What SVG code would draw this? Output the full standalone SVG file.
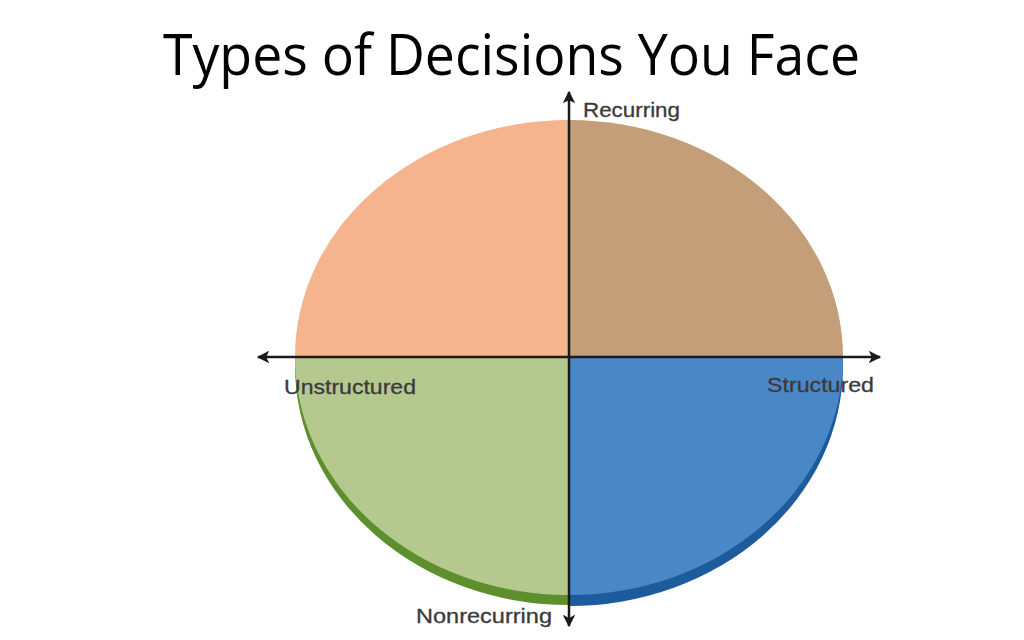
<svg xmlns="http://www.w3.org/2000/svg" width="1024" height="640" viewBox="0 0 1024 640">
  <style>
    .title { font-family: "Open Sans", "Liberation Sans", sans-serif; font-size: 56px; fill: #000; }
    .lbl { font-family: "Liberation Sans", Arial, sans-serif; font-size: 21px; fill: #3a3a3a; stroke: #3a3a3a; stroke-width: 0.3; }
    .axis { stroke: #1a1a1a; stroke-width: 2.5; fill: none; }
  </style>
  <defs>
    <marker id="arr" viewBox="0 0 10 10" refX="9" refY="5" markerWidth="5" markerHeight="5" orient="auto" markerUnits="strokeWidth">
      <path d="M0,0 L10,5 L0,10 L2.5,5 Z" fill="#1a1a1a"/>
    </marker>
    <clipPath id="cl"><rect x="0" y="357" width="569" height="300"/></clipPath>
    <clipPath id="cr"><rect x="569" y="357" width="500" height="300"/></clipPath>
  </defs>
  <rect width="1024" height="640" fill="#fff"/>
  <text class="title" x="163" y="75" textLength="697" lengthAdjust="spacingAndGlyphs">Types of Decisions You Face</text>

  <g id="quadrant-unstructured-nonrecurring">
    <ellipse cx="569" cy="366" rx="274" ry="239" fill="#5E8F2E" clip-path="url(#cl)"/>
    <path d="M569,357 L295,357 A274,238 0 0 0 569,595 Z" fill="#B5C98F"/>
  </g>
  <g id="quadrant-structured-nonrecurring">
    <ellipse cx="569" cy="366" rx="274" ry="240" fill="#1D5C9C" clip-path="url(#cr)"/>
    <path d="M569,357 L843,357 A274,238 0 0 1 569,595 Z" fill="#4A87C6"/>
  </g>
  <g id="quadrant-unstructured-recurring">
    <path d="M569,357 L295,357 A274,237 0 0 1 569,120 Z" fill="#F5B38E"/>
  </g>
  <g id="quadrant-structured-recurring">
    <path d="M569,357 L843,357 A274,237 0 0 0 569,120 Z" fill="#C49E78"/>
  </g>

  <g id="connectors">
    <line class="axis" x1="569" y1="357" x2="569" y2="92" marker-end="url(#arr)"/>
    <line class="axis" x1="569" y1="357" x2="569" y2="626" marker-end="url(#arr)"/>
    <line class="axis" x1="569" y1="357" x2="258" y2="357" marker-end="url(#arr)"/>
    <line class="axis" x1="569" y1="357" x2="880" y2="357" marker-end="url(#arr)"/>
  </g>

  <g id="labels">
    <text class="lbl" x="583" y="117" textLength="97" lengthAdjust="spacingAndGlyphs">Recurring</text>
    <text class="lbl" x="284" y="394" textLength="132" lengthAdjust="spacingAndGlyphs">Unstructured</text>
    <text class="lbl" x="767" y="392" textLength="107" lengthAdjust="spacingAndGlyphs">Structured</text>
    <text class="lbl" x="416" y="623" textLength="136" lengthAdjust="spacingAndGlyphs">Nonrecurring</text>
  </g>
</svg>
